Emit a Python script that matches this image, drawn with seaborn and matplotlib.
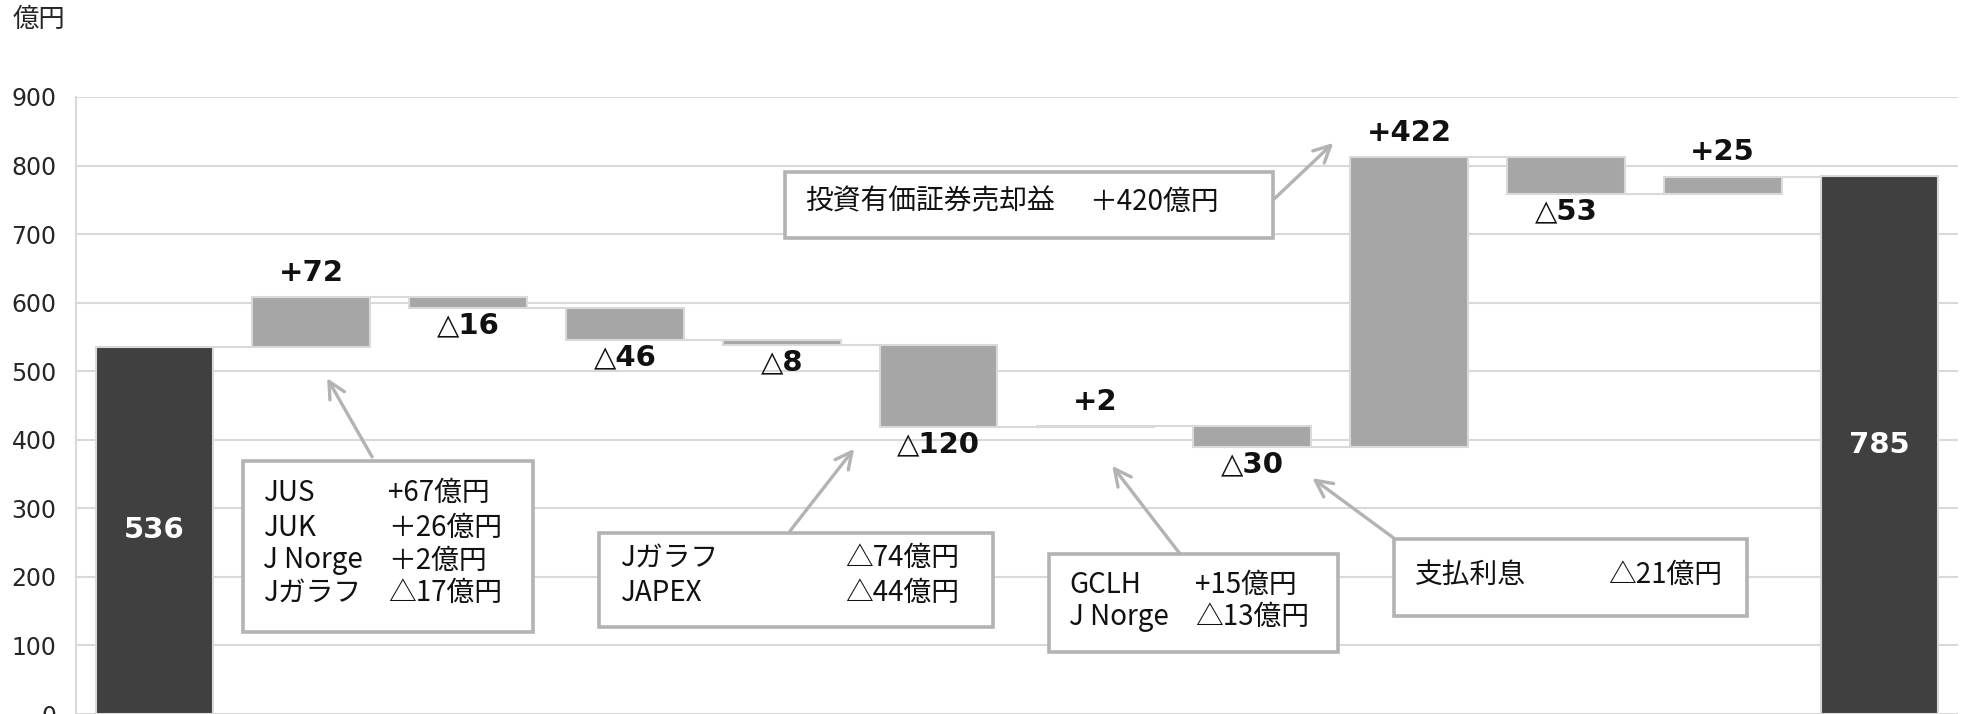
import numpy as np
import pandas as pd
import matplotlib
matplotlib.use("Agg")
import matplotlib.pyplot as plt
import seaborn as sns
from matplotlib.patches import Rectangle

# ---------------- data ----------------
categories = ["期首", "海外子会社", "項目2", "項目3", "項目4", "項目5",
              "項目6", "項目7", "投資有価証券売却益", "項目9", "項目10", "期末"]
start_value = 536
end_value = 785
changes = [72, -16, -46, -8, -120, 2, -30, 422, -53, 25]
change_labels = ["+72", "△16", "△46", "△8", "△120", "+2", "△30", "+422", "△53", "+25"]
total_labels = ["536", "785"]
yticks = [0, 100, 200, 300, 400, 500, 600, 700, 800, 900]
unit_label = "億円"

box_texts = [
    [("JUS", "+67億円"), ("JUK", "＋26億円"), ("J Norge", "＋2億円"), ("Jガラフ", "△17億円")],
    [("Jガラフ", "△74億円"), ("JAPEX", "△44億円")],
    [("投資有価証券売却益", "＋420億円")],
    [("GCLH", "+15億円"), ("J Norge", "△13億円")],
    [("支払利息", "△21億円")],
]

# ---------------- derived ----------------
levels = start_value + np.cumsum(changes)
prev = np.concatenate([[start_value], levels[:-1]])
bottoms = np.minimum(prev, levels)
heights = np.abs(changes)

df_delta = pd.DataFrame({"cat": categories[1:-1], "height": heights, "bottom": bottoms})
df_total = pd.DataFrame({"cat": [categories[0], categories[-1]], "value": [start_value, end_value]})

# ---------------- style ----------------
sns.set_theme(style="white")
plt.rcParams["font.family"] = ["DejaVu Sans", "Noto Sans CJK JP"]
CJK = ["Noto Sans CJK JP", "DejaVu Sans"]

W, H = 1974, 714
fig = plt.figure(figsize=(W / 100, H / 100), dpi=100)
ax = fig.add_axes([76 / W, 0.0, (1958 - 76) / W, (714 - 97) / H])

grid_c = "#d9d9d9"
delta_c = "#a6a6a6"
total_c = "#404040"
bw = 0.75

sns.barplot(data=df_delta, x="cat", y="height", order=categories, bottom=df_delta["bottom"].values,
            color=delta_c, saturation=1, width=bw, edgecolor=grid_c, linewidth=1.5,
            errorbar=None, ax=ax, zorder=3)
sns.barplot(data=df_total, x="cat", y="value", order=categories,
            color=total_c, saturation=1, width=bw, edgecolor=grid_c, linewidth=1.5,
            errorbar=None, ax=ax, zorder=3)

# connectors
conn_levels = np.concatenate([[start_value], levels])
for i, lv in enumerate(conn_levels):
    ax.hlines(lv, i + bw / 2, i + 1 - bw / 2, color=grid_c, lw=1.5, zorder=2)

ax.set_xlim(-0.5, len(categories) - 0.5)
ax.set_ylim(0, 900)
ax.set_yticks(yticks)
ax.set_yticklabels([str(t) for t in yticks], fontsize=17, color="#262626")
ax.set_xticks([])
ax.set_xlabel("")
ax.set_ylabel("")
ax.yaxis.grid(True, color=grid_c, lw=1.5, zorder=0)
ax.set_axisbelow(True)
ax.tick_params(axis="y", length=0, pad=14)
for s in ["top", "right", "bottom"]:
    ax.spines[s].set_visible(False)
ax.spines["left"].set_color(grid_c)
ax.spines["left"].set_linewidth(1.5)

fig.text(13 / W, 1 - 19 / H, unit_label, fontsize=19, va="center", ha="left",
         family=CJK, color="#262626")

# value labels
for k, (ch, lab) in enumerate(zip(changes, change_labels)):
    i = k + 1
    if ch >= 0:
        ax.annotate(lab, xy=(i, bottoms[k] + heights[k]), xytext=(0, 17.5), textcoords="offset points",
                    ha="center", va="center", fontsize=21, fontweight="bold", color="#111111", zorder=6)
    else:
        ax.annotate(lab, xy=(i, bottoms[k]), xytext=(0, -12.5), textcoords="offset points",
                    ha="center", va="center", fontsize=21, fontweight="bold", color="#111111", zorder=6)

for i, v, lab in [(0, start_value, total_labels[0]), (len(categories) - 1, end_value, total_labels[1])]:
    ax.text(i, v / 2, lab, ha="center", va="center", fontsize=21, fontweight="bold",
            color="white", zorder=6)

# annotation boxes (x in category units, y in value units)
boxes = [
    dict(rect=(0.565, 120, 2.414, 369), tx=0.692, vx=1.49, ys=[322, 271, 224, 177],
         arrow=((1.388, 375), (1.101, 490))),
    dict(rect=(2.835, 127, 5.348, 264), tx=2.969, vx=4.404, ys=[228, 176],
         arrow=((4.053, 267), (4.462, 387))),
    dict(rect=(4.022, 694, 7.134, 790), tx=4.148, vx=5.96, ys=[747],
         arrow=((7.134, 750), (7.517, 833))),
    dict(rect=(5.705, 90, 7.548, 233), tx=5.833, vx=6.637, ys=[188, 141],
         arrow=((6.541, 233), (6.107, 362))),
    dict(rect=(7.905, 143, 10.157, 255), tx=8.04, vx=9.27, ys=[203],
         arrow=((7.912, 255), (7.383, 344))),
]
box_c = "#b3b3b3"
for b, lines in zip(boxes, box_texts):
    x0, y0, x1, y1 = b["rect"]
    ax.add_patch(Rectangle((x0, y0), x1 - x0, y1 - y0, facecolor="white", edgecolor=box_c,
                           lw=2.6, zorder=7, clip_on=False))
    for (name, val), yy in zip(lines, b["ys"]):
        ax.text(b["tx"], yy, name, va="center", ha="left", fontsize=20, family=CJK,
                color="#111111", zorder=8)
        ax.text(b["vx"], yy, val, va="center", ha="left", fontsize=20, family=CJK,
                color="#111111", zorder=8)
    tail, head = b["arrow"]
    ax.annotate("", xy=head, xytext=tail,
                arrowprops=dict(arrowstyle="->", color=box_c, lw=2.4, mutation_scale=30,
                                shrinkA=0, shrinkB=0), zorder=6)

fig.savefig("out.png", dpi=100)
